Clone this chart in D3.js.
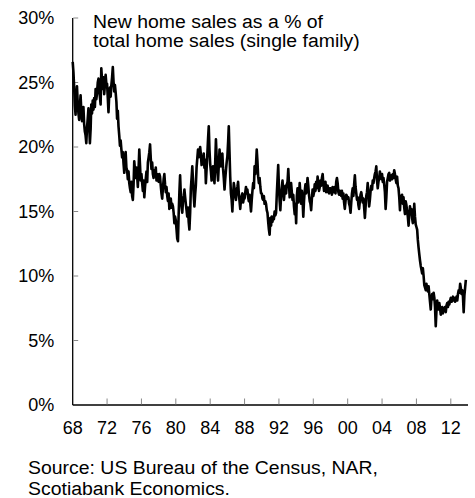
<!DOCTYPE html>
<html>
<head>
<meta charset="utf-8">
<script src="https://cdn.jsdelivr.net/npm/d3@7"></script>
<style>
  html, body { margin: 0; padding: 0; background: #fff; }
  svg { display: block; }
  text { font-family: "Liberation Sans", Arial, sans-serif; fill: #000; }
</style>
</head>
<body>
<svg id="chart" width="475" height="498"></svg>
<script>
// Monthly data, starting January 1968 (new home sales as % of total single-family sales)
const startYear = 1968;
const newHomeShare = [
  // 1968
  26.6, 25.8, 24.7, 23.2, 22.5, 23.8, 24.7, 23.4, 22.6, 22.1, 23.2, 24.0,
  // 1969
  22.8, 22.0, 22.4, 23.1, 21.8, 21.2, 20.9, 20.3, 21.5, 22.2, 23.0, 21.7,
  // 1970
  20.3, 21.4, 23.3, 22.6, 23.6, 22.9, 23.8, 23.1, 24.5, 23.7, 24.2, 25.0,
  // 1971
  25.3, 24.4, 23.9, 23.3, 26.1, 25.2, 24.5, 25.4, 24.1, 24.8, 25.6, 24.9,
  // 1972
  24.9, 23.8, 22.7, 24.0, 24.6, 23.9, 24.8, 25.4, 26.2, 25.1, 24.3, 24.8,
  // 1973
  24.2, 23.5, 22.2, 22.8, 21.6, 20.9, 20.1, 20.5, 19.8, 19.2, 19.6, 18.7,
  // 1974
  18.0, 18.9, 19.6, 18.4, 18.2, 17.5, 18.1, 17.2, 16.8, 16.5, 17.3, 16.2,
  // 1975
  15.9, 17.1, 18.9, 18.2, 17.6, 18.4, 17.8, 16.9, 18.3, 19.8, 18.6, 17.4,
  // 1976
  17.9, 17.2, 16.6, 17.4, 16.1, 16.9, 17.5, 18.1, 17.3, 18.8, 19.2, 19.6,
  // 1977
  20.2, 19.1, 18.3, 18.8, 17.9, 17.6, 18.2, 17.8, 18.4, 17.4, 17.9, 17.6,
  // 1978
  17.3, 17.9, 17.7, 17.0, 16.4, 16.0, 16.8, 17.5, 17.9, 17.1, 16.5, 16.9,
  // 1979
  16.2, 15.8, 16.4, 15.2, 15.7, 16.0, 15.3, 15.6, 15.4, 14.9, 14.1, 14.6,
  // 1980
  14.3, 13.6, 12.9, 12.7, 14.8, 16.5, 17.8, 16.3, 15.4, 14.9, 15.8, 16.2,
  // 1981
  16.7, 16.1, 15.6, 15.1, 14.6, 15.3, 14.2, 13.6, 14.9, 16.8, 17.6, 18.5,
  // 1982
  17.4, 16.2, 15.4, 16.3, 17.0, 18.4, 19.1, 19.8, 19.2, 19.6, 20.0, 19.4,
  // 1983
  18.6, 19.1, 18.9, 19.5, 18.4, 19.0, 17.2, 18.3, 19.4, 20.6, 21.6, 19.8,
  // 1984
  18.7, 18.1, 17.4, 18.0, 18.5, 17.8, 17.2, 18.8, 20.6, 19.2, 18.1, 17.4,
  // 1985
  18.6, 19.8, 19.0, 18.5, 19.1, 19.5, 18.3, 17.6, 16.7, 17.5, 18.2, 18.8,
  // 1986
  19.3, 20.4, 21.6, 19.6, 17.7, 16.4, 15.9, 15.0, 16.3, 17.2, 16.8, 16.2,
  // 1987
  15.9, 16.6, 16.9, 17.3, 16.4, 15.8, 15.2, 15.9, 16.2, 16.4, 15.7, 16.0,
  // 1988
  16.0, 16.5, 16.9, 16.4, 16.7, 16.1, 15.8, 16.3, 15.6, 15.0, 15.9, 16.6,
  // 1989
  17.2, 16.8, 18.5, 17.9, 18.6, 19.8, 18.9, 17.7, 17.2, 17.6, 16.9, 16.4,
  // 1990
  16.4, 16.0, 15.9, 16.2, 15.6, 15.8, 15.6, 15.1, 14.9, 14.2, 13.6, 13.2,
  // 1991
  14.5, 13.9, 14.6, 14.2, 14.6, 14.4, 15.0, 14.7, 14.9, 16.3, 17.5, 18.6,
  // 1992
  16.9, 15.8, 15.1, 16.2, 16.8, 17.4, 16.5, 15.9, 16.6, 17.0, 16.4, 17.1,
  // 1993
  17.3, 18.3, 17.2, 16.1, 16.8, 17.2, 16.5, 15.9, 16.3, 15.4, 14.8, 15.6,
  // 1994
  14.1, 16.2, 16.8, 15.7, 16.1, 17.2, 16.4, 15.6, 16.6, 15.9, 14.6, 15.8,
  // 1995
  16.6, 17.1, 16.4, 16.9, 17.6, 17.0, 16.3, 15.8, 15.6, 15.1, 16.0, 16.7,
  // 1996
  16.2, 16.5, 17.1, 16.6, 17.3, 16.8, 17.7, 17.2, 16.6, 16.9, 17.4, 17.0,
  // 1997
  17.6, 17.9, 17.2, 16.6, 17.1, 17.3, 16.5, 16.9, 17.0, 16.5, 16.4, 16.8,
  // 1998
  16.8, 16.6, 16.3, 16.9, 16.5, 16.7, 16.9, 16.4, 17.3, 17.6, 17.2, 16.5,
  // 1999
  16.3, 16.6, 16.4, 16.2, 16.6, 16.0, 16.4, 15.7, 15.2, 15.8, 16.3, 16.2,
  // 2000
  16.0, 16.1, 15.6, 15.4, 14.9, 15.7, 16.4, 16.8, 16.2, 17.1, 17.8, 16.9,
  // 2001
  16.4, 15.9, 16.1, 15.5, 15.2, 15.8, 16.3, 16.5, 16.1, 15.7, 16.0, 15.3,
  // 2002
  14.5, 15.4, 16.2, 16.5, 17.2, 16.3, 15.4, 15.9, 16.6, 17.0, 16.7, 17.4,
  // 2003
  17.2, 17.6, 17.9, 18.1, 18.5, 17.4, 16.8, 17.3, 17.6, 18.1, 17.7, 17.5,
  // 2004
  17.9, 17.3, 17.6, 17.1, 16.5, 15.2, 16.1, 17.3, 17.6, 17.9, 18.0, 17.4,
  // 2005
  17.6, 17.8, 17.5, 17.9, 17.6, 18.2, 17.9, 17.5, 17.2, 17.7, 17.0, 16.8,
  // 2006
  16.1, 15.1, 16.2, 15.9, 16.3, 15.6, 16.1, 15.3, 14.8, 15.8, 15.5, 15.0,
  // 2007
  14.6, 13.9, 14.7, 15.4, 14.8, 15.2, 14.5, 14.1, 14.4, 15.6, 14.6, 14.0,
  // 2008
  13.8, 13.6, 12.8, 12.2, 11.7, 11.2, 10.8, 10.5, 10.2, 10.6, 10.0, 9.3,
  // 2009
  9.1, 8.9, 9.4, 9.0, 8.8, 9.2, 8.6, 8.0, 7.4, 8.3, 8.6, 8.2,
  // 2010
  8.7, 8.3, 7.6, 6.1, 7.3, 8.1, 7.6, 7.4, 7.9, 7.5, 7.0, 7.3,
  // 2011
  7.6, 7.1, 7.5, 7.3, 7.6, 7.2, 7.7, 7.9, 7.6, 8.0, 7.8, 8.1,
  // 2012
  8.3, 8.0, 8.2, 8.4, 8.1, 8.3, 8.0, 8.2, 8.4, 8.1, 8.6, 8.9,
  // 2013
  8.7, 9.4, 9.1, 8.6, 8.9, 8.4, 7.2, 8.5, 9.1, 9.7
];

const yTicks = [0, 5, 10, 15, 20, 25, 30];
const xTickYears = [1968, 1972, 1976, 1980, 1984, 1988, 1992, 1996, 2000, 2004, 2008, 2012];
const titleLines = ["New home sales as a % of", "total home sales (single family)"];
const sourceLines = ["Source: US Bureau of the Census, NAR,", "Scotiabank Economics."];

const data = newHomeShare.map((v, i) => ({
  date: new Date(startYear + Math.floor(i / 12), i % 12, 1),
  value: v
}));

const svg = d3.select("#chart");
const x = d3.scaleTime()
  .domain([new Date(1968, 0, 1), new Date(2014, 0, 1)])
  .range([72.7, 468]);
const y = d3.scaleLinear().domain([0, 30]).range([405, 18]);

// Y axis
const yAxis = svg.append("g").attr("transform", `translate(${x.range()[0]},0)`);
yAxis.append("line")
  .attr("x1", 0).attr("x2", 0)
  .attr("y1", y(0)).attr("y2", y(30))
  .attr("stroke", "#000").attr("stroke-width", 1.3);
yAxis.selectAll("line.tick").data(yTicks.filter(d => d > 0)).join("line")
  .attr("class", "tick")
  .attr("x1", 0.6).attr("x2", 5.5)
  .attr("y1", d => y(d)).attr("y2", d => y(d))
  .attr("stroke", "#888").attr("stroke-width", 1);
yAxis.selectAll("text").data(yTicks).join("text")
  .attr("x", -18.5)
  .attr("y", d => y(d))
  .attr("dy", "0.36em")
  .attr("text-anchor", "end")
  .attr("font-size", 18)
  .text(d => d + "%");

// X axis
const xAxis = svg.append("g").attr("transform", `translate(0,${y(0)})`);
xAxis.append("line")
  .attr("x1", x.range()[0]).attr("x2", x.range()[1])
  .attr("y1", 0).attr("y2", 0)
  .attr("stroke", "#000").attr("stroke-width", 1.3);
xAxis.selectAll("line.tick").data(xTickYears.slice(1)).join("line")
  .attr("class", "tick")
  .attr("x1", d => x(new Date(d, 0, 1))).attr("x2", d => x(new Date(d, 0, 1)))
  .attr("y1", -0.6).attr("y2", -6.5)
  .attr("stroke", "#888").attr("stroke-width", 1);
xAxis.selectAll("text").data(xTickYears).join("text")
  .attr("x", d => x(new Date(d, 0, 1)))
  .attr("y", 29.3)
  .attr("text-anchor", "middle")
  .attr("font-size", 18)
  .text(d => d3.timeFormat("%y")(new Date(d, 0, 1)));

// Line
const line = d3.line().x(d => x(d.date)).y(d => y(d.value));
svg.append("path")
  .datum(data)
  .attr("fill", "none")
  .attr("stroke", "#000")
  .attr("stroke-width", 2.6)
  .attr("stroke-linejoin", "round")
  .attr("d", line);

// Helper: stretch a block of text lines horizontally so first line fits a target width
function stretchBlock(g, x0, targetWidth) {
  const w = g.select("text").node().getComputedTextLength();
  const k = targetWidth / w;
  g.attr("transform", `translate(${x0},0) scale(${k},1)`);
}

// Title
const titleG = svg.append("g");
titleG.selectAll("text").data(titleLines).join("text")
  .attr("x", 0)
  .attr("y", (d, i) => 28.3 + i * 18.5)
  .attr("font-size", 18.6)
  .text(d => d);
stretchBlock(titleG, 93, 230);

// Source
const sourceG = svg.append("g");
sourceG.selectAll("text").data(sourceLines).join("text")
  .attr("x", 0)
  .attr("y", (d, i) => 474.3 + i * 21)
  .attr("font-size", 18.6)
  .text(d => d);
stretchBlock(sourceG, 28, 350);
</script>
</body>
</html>
